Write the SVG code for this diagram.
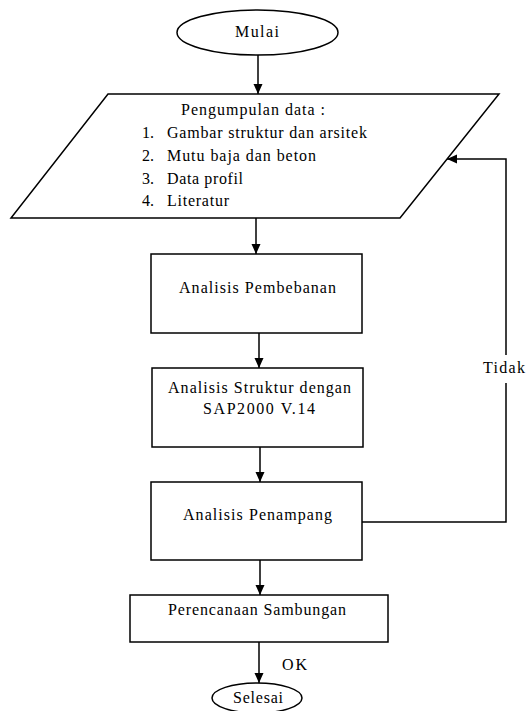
<svg xmlns="http://www.w3.org/2000/svg" width="527" height="711" viewBox="0 0 527 711">
<style>
.s{fill:#fff;stroke:#000;stroke-width:1.5}
.t{font-family:'Liberation Serif','Times New Roman','DejaVu Serif',serif;font-size:16px;fill:#000}
.m{text-anchor:middle}
.c{fill:none;stroke:#000;stroke-width:1.5}
</style>
<defs>
<marker id="ah" markerUnits="userSpaceOnUse" markerWidth="10" markerHeight="10" viewBox="0 0 10 10" refX="10" refY="5" orient="auto">
<path d="M0 0.5 L10 5 L0 9.5 Z" fill="#000"/>
</marker>
</defs>
<rect width="527" height="711" fill="#fff"/>
<g id="connectors">
<line class="c" x1="258" y1="55" x2="258" y2="94" marker-end="url(#ah)"/>
<line class="c" x1="256" y1="218" x2="256" y2="254" marker-end="url(#ah)"/>
<line class="c" x1="259" y1="333" x2="259" y2="368" marker-end="url(#ah)"/>
<line class="c" x1="260" y1="447" x2="260" y2="482" marker-end="url(#ah)"/>
<line class="c" x1="260" y1="560" x2="260" y2="595" marker-end="url(#ah)"/>
<line class="c" x1="259" y1="642" x2="259" y2="683" marker-end="url(#ah)"/>
<path class="c" d="M362 522 H506 V383 M506 355 V159 H447" marker-end="url(#ah)"/>
<text class="t" font-family="Liberation Serif, serif" x="483" y="373" textLength="42">Tidak</text>
<text class="t" font-family="Liberation Serif, serif" x="282" y="670" textLength="25">OK</text>
</g>
<g id="mulai">
<ellipse class="s" cx="257.5" cy="32.5" rx="80.5" ry="22.5"/>
<text class="t m" x="257" y="37" textLength="44">Mulai</text>
</g>
<g id="data">
<polygon class="s" points="108,94 499,94 400,218 11,218"/>
<text class="t m" x="253" y="115" textLength="144">Pengumpulan data :</text>
<text class="t" x="142" y="138">1.</text>
<text class="t" x="167" y="138" textLength="200">Gambar struktur dan arsitek</text>
<text class="t" x="142" y="161">2.</text>
<text class="t" x="167" y="161" textLength="149">Mutu baja dan beton</text>
<text class="t" x="142" y="184">3.</text>
<text class="t" x="167" y="184" textLength="76">Data profil</text>
<text class="t" x="142" y="206">4.</text>
<text class="t" x="167" y="206" textLength="62">Literatur</text>
</g>
<g id="pembebanan">
<rect class="s" x="151" y="254" width="211" height="79"/>
<text class="t m" x="257.5" y="293" textLength="157">Analisis Pembebanan</text>
</g>
<g id="struktur">
<rect class="s" x="152" y="368" width="211" height="79"/>
<text class="t m" x="259.5" y="393" textLength="183">Analisis Struktur dengan</text>
<text class="t m" x="259" y="414" textLength="112">SAP2000 V.14</text>
</g>
<g id="penampang">
<rect class="s" x="151" y="482" width="211" height="78"/>
<text class="t m" x="257.5" y="520" textLength="149">Analisis Penampang</text>
</g>
<g id="sambungan">
<rect class="s" x="130" y="595" width="258" height="47"/>
<text class="t m" x="257" y="615" textLength="178">Perencanaan Sambungan</text>
</g>
<g id="selesai">
<ellipse class="s" cx="257" cy="698" rx="45" ry="15"/>
<text class="t m" x="258" y="703" textLength="50">Selesai</text>
</g>
</svg>
